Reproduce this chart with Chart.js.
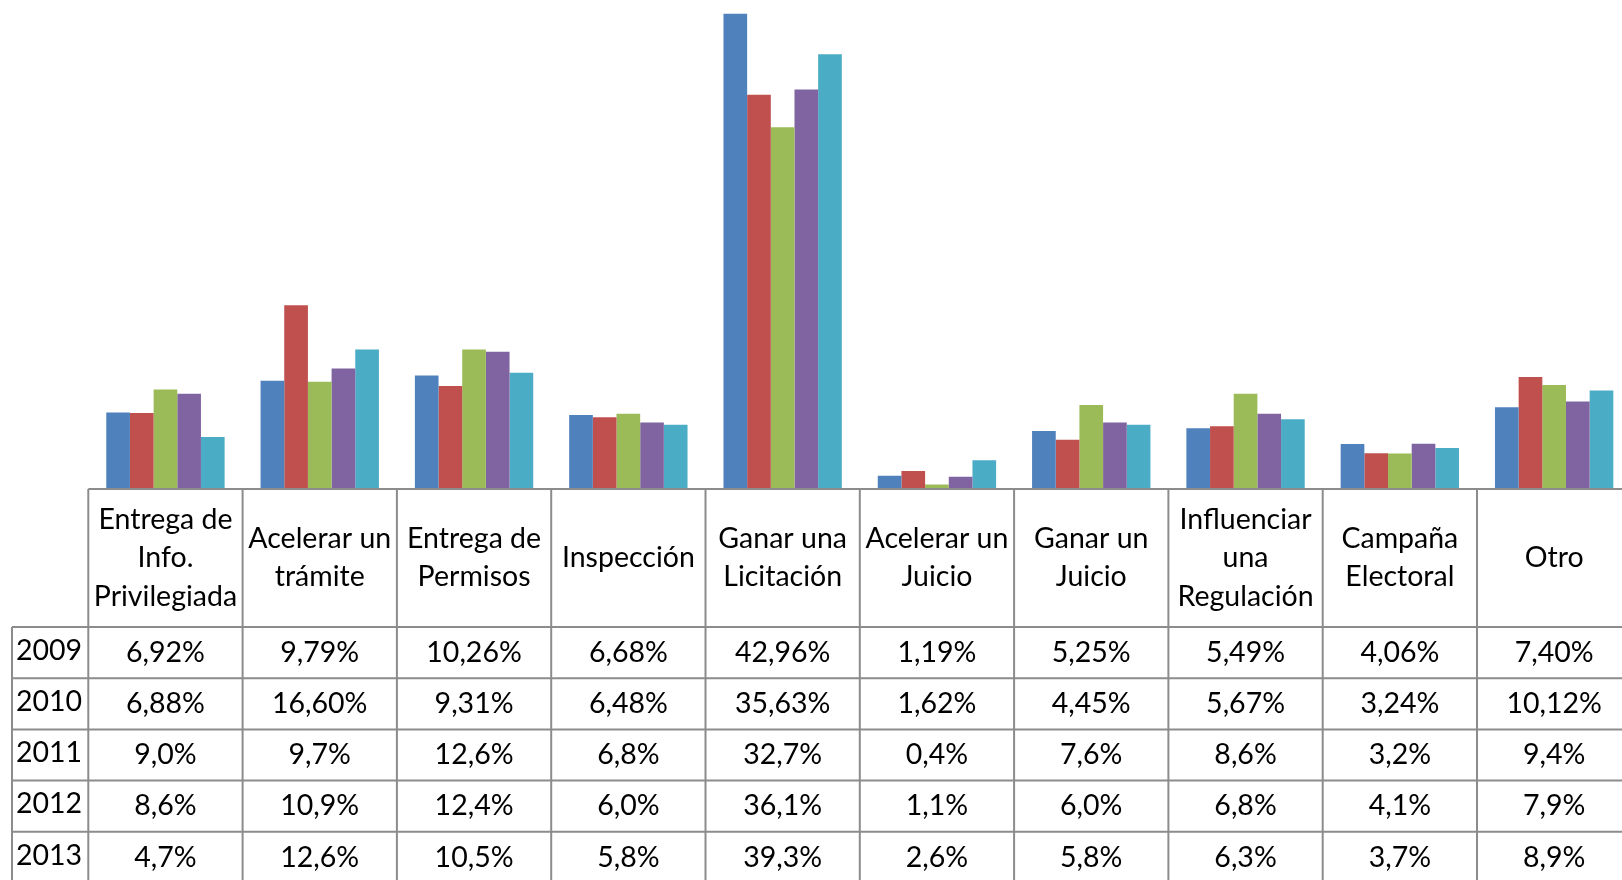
<!DOCTYPE html>
<html>
<head>
<meta charset="utf-8">
<script src="https://cdn.jsdelivr.net/npm/chart.js@4/dist/chart.umd.min.js"></script>
<style>
  html, body { margin: 0; padding: 0; background: #fff; overflow: hidden; width: 1622px; height: 880px; }
  canvas { display: block; }
</style>
</head>
<body>
<canvas id="c" width="1640" height="880"></canvas>
<script>
const categories = [
  ["Entrega de", "Info.", "Privilegiada"],
  ["Acelerar un", "trámite"],
  ["Entrega de", "Permisos"],
  ["Inspección"],
  ["Ganar una", "Licitación"],
  ["Acelerar un", "Juicio"],
  ["Ganar un", "Juicio"],
  ["Influenciar", "una", "Regulación"],
  ["Campaña", "Electoral"],
  ["Otro"]
];
const years = ["2009", "2010", "2011", "2012", "2013"];
const decimals = [2, 2, 1, 1, 1];
const v2009 = [6.92, 9.79, 10.26, 6.68, 42.96, 1.19, 5.25, 5.49, 4.06, 7.40];
const v2010 = [6.88, 16.60, 9.31, 6.48, 35.63, 1.62, 4.45, 5.67, 3.24, 10.12];
const v2011 = [9.0, 9.7, 12.6, 6.8, 32.7, 0.4, 7.6, 8.6, 3.2, 9.4];
const v2012 = [8.6, 10.9, 12.4, 6.0, 36.1, 1.1, 6.0, 6.8, 4.1, 7.9];
const v2013 = [4.7, 12.6, 10.5, 5.8, 39.3, 2.6, 5.8, 6.3, 3.7, 8.9];
const series = [v2009, v2010, v2011, v2012, v2013];
const colors = ["#4F81BD", "#C0504D", "#9BBB59", "#8064A2", "#4BACC6"];

const FONT = "Lato, 'Open Sans', sans-serif";
const HEADER_H = 138;
const ROW_H = 51.2;
const LINE_H = 38.5;
const FONT_SIZE = 28.5;
const GRID = "#8c8c8c";

function fmt(v, d) {
  return v.toFixed(d).replace(".", ",") + "%";
}

const tablePlugin = {
  id: "dataTable",
  afterDraw(chart) {
    const ctx = chart.ctx;
    const xs = chart.scales.x;
    const n = categories.length;
    const step = xs.getPixelForValue(1) - xs.getPixelForValue(0);
    const top = chart.chartArea.bottom;
    const left0 = xs.getPixelForValue(0) - step / 2;
    const right = xs.getPixelForValue(n - 1) + step / 2;
    const rowLeft = 12;
    const hdrBottom = top + HEADER_H;
    const bottom = hdrBottom + ROW_H * years.length;
    ctx.save();
    ctx.strokeStyle = GRID;
    ctx.lineWidth = 2;
    ctx.beginPath();
    ctx.moveTo(left0, top); ctx.lineTo(right, top);
    for (let r = 0; r <= years.length; r++) {
      const y = hdrBottom + r * ROW_H;
      ctx.moveTo(rowLeft, y); ctx.lineTo(right, y);
    }
    for (let i = 0; i <= n; i++) {
      const x = left0 + i * step;
      ctx.moveTo(x, top); ctx.lineTo(x, bottom);
    }
    ctx.moveTo(rowLeft, hdrBottom); ctx.lineTo(rowLeft, bottom);
    ctx.stroke();

    ctx.fillStyle = "#000";
    ctx.font = FONT_SIZE + "px " + FONT;
    ctx.textBaseline = "middle";
    ctx.textAlign = "center";
    categories.forEach((lines, i) => {
      const cx = xs.getPixelForValue(i);
      const cy = top + HEADER_H / 2;
      const startY = cy - (lines.length - 1) * LINE_H / 2;
      lines.forEach((t, k) => ctx.fillText(t, cx, startY + k * LINE_H));
    });
    years.forEach((yr, r) => {
      const cy = hdrBottom + r * ROW_H + ROW_H / 2;
      ctx.textAlign = "left";
      ctx.fillText(yr, 16, cy - 2);
      ctx.textAlign = "center";
      series[r].forEach((v, i) => {
        ctx.fillText(fmt(v, decimals[r]), xs.getPixelForValue(i), cy);
      });
    });
    ctx.restore();
  }
};

new Chart(document.getElementById("c"), {
  type: "bar",
  data: {
    labels: categories,
    datasets: years.map((yr, r) => ({
      label: yr,
      data: series[r],
      backgroundColor: colors[r],
      borderWidth: 0,
      categoryPercentage: 0.767,
      barPercentage: 1.0
    }))
  },
  options: {
    responsive: false,
    animation: false,
    layout: { padding: { left: 88.3, right: 8.7, top: 0, bottom: 391 } },
    plugins: { legend: { display: false }, tooltip: { enabled: false } },
    scales: {
      x: { display: false },
      y: { display: false, min: 0, max: 44.2 }
    }
  },
  plugins: [tablePlugin]
});
</script>
</body>
</html>
